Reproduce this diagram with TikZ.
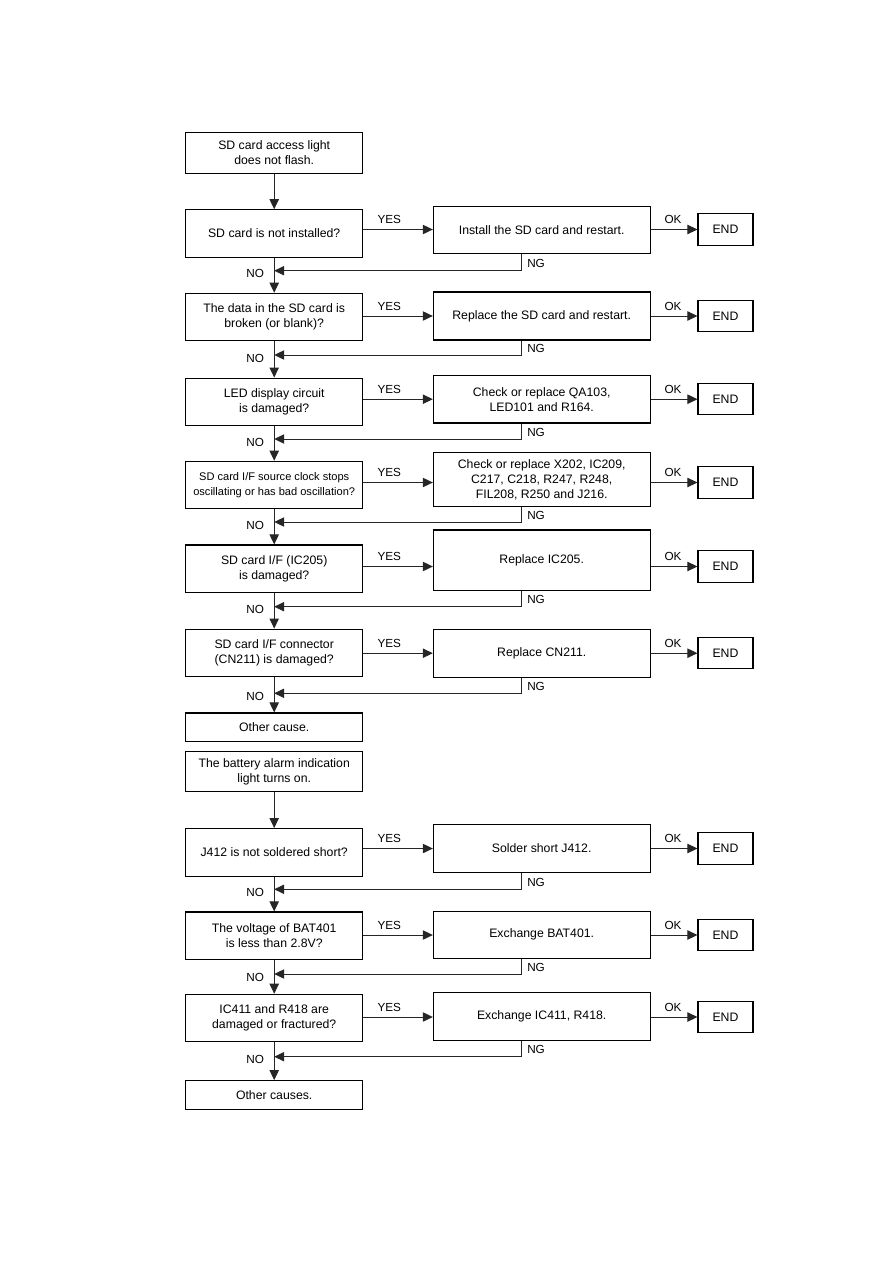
\documentclass[tikz,border=0pt]{standalone}
\usepackage{fontspec}
\setmainfont{Liberation Sans}
\usetikzlibrary{arrows.meta}
\begin{document}
\begin{tikzpicture}[x=0.75pt,y=-0.75pt,
  box/.style={draw=black, line width=0.8pt, fill=white, align=center, inner sep=1pt,
    font=\fontsize{9.2}{11.2}\selectfont, text=black},
  lbox/.style={box, minimum width=132.75pt, minimum height=35.6pt},
  mbox/.style={box, minimum width=162.5pt},
  ebox/.style={box, minimum width=41.25pt, minimum height=23.6pt},
  conn/.style={draw=black!85, line width=0.75pt},
  arr/.style={conn, -{Triangle[length=7.5pt,width=7pt]}},
  lab/.style={font=\fontsize{8.8}{10}\selectfont, inner sep=0pt, text=black}]
\useasboundingbox (0,0) rectangle (893,1263);

% left column
\node[lbox, minimum height=30.45pt] (b0) at (274.2,153) {SD card access light\\does not flash.};
\node[lbox] (q1) at (274.2,233.5) {SD card is not installed?};
\node[lbox] (q2) at (274.2,317) {The data in the SD card is\\broken (or blank)?};
\node[lbox] (q3) at (274.2,401.8) {LED display circuit\\is damaged?};
\node[lbox, font=\fontsize{8.3}{11}\selectfont] (q4) at (274.2,485) {SD card I/F source clock stops\\oscillating or has bad oscillation?};
\node[lbox] (q5) at (274.2,568.7) {SD card I/F (IC205)\\is damaged?};
\node[lbox] (q6) at (274.2,652.8) {SD card I/F connector\\(CN211) is damaged?};
\node[lbox, minimum height=21.5pt] (oc1) at (274.2,727.3) {Other cause.};
\node[lbox, minimum height=30pt] (b1) at (274.2,771.7) {The battery alarm indication\\light turns on.};
\node[lbox] (q7) at (274.2,852.3) {J412 is not soldered short?};
\node[lbox] (q8) at (274.2,935.7) {The voltage of BAT401\\is less than 2.8V?};
\node[lbox] (q9) at (274.2,1018) {IC411 and R418 are\\damaged or fractured?};
\node[lbox, minimum height=21.5pt] (oc2) at (274.2,1095) {Other causes.};

% middle column
\node[mbox, minimum height=35.5pt] (a1) at (541.7,229.7) {Install the SD card and restart.};
\node[mbox, minimum height=36pt] (a2) at (541.7,316) {Replace the SD card and restart.};
\node[mbox, minimum height=35.5pt] (a3) at (541.7,399.3) {Check or replace QA103,\\LED101 and R164.};
\node[mbox, minimum height=40.5pt] (a4) at (541.7,479.7) {Check or replace X202, IC209,\\C217, C218, R247, R248,\\FIL208, R250 and J216.};
\node[mbox, minimum height=45.5pt] (a5) at (541.7,560.3) {Replace IC205.};
\node[mbox, minimum height=36pt] (a6) at (541.7,653.3) {Replace CN211.};
\node[mbox, minimum height=35.8pt] (a7) at (541.7,848.2) {Solder short J412.};
\node[mbox, minimum height=35.5pt] (a8) at (541.7,934.7) {Exchange BAT401.};
\node[mbox, minimum height=36pt] (a9) at (541.7,1016.7) {Exchange IC411, R418.};

% END column
\foreach \i/\y in {1/229.5,2/316,3/399.2,4/482.5,5/566.5,6/653.2,7/848.5,8/935,9/1017}
  \node[ebox] (e\i) at (725.5,\y) {END};

% NG corners
\foreach \i/\y in {1/270.7,2/355,3/439,4/522,5/606.7,6/693.3,7/889.3,8/974,9/1056.7}
  \coordinate (g\i) at (521,\y);

% vertical flow
\draw[arr] (b0.south) -- (q1.north);
\draw[arr] (q1.south) -- (q2.north);
\draw[arr] (q2.south) -- (q3.north);
\draw[arr] (q3.south) -- (q4.north);
\draw[arr] (q4.south) -- (q5.north);
\draw[arr] (q5.south) -- (q6.north);
\draw[arr] (q6.south) -- (oc1.north);
\draw[arr] (b1.south) -- (q7.north);
\draw[arr] (q7.south) -- (q8.north);
\draw[arr] (q8.south) -- (q9.north);
\draw[arr] (q9.south) -- (oc2.north);

% YES / OK / NG / NO
\foreach \i in {1,...,9} {
  \draw[arr] (q\i.east |- e\i.west) -- (a\i.west |- e\i.west);
  \path (q\i.east |- e\i.west) ++(26,-10) node[lab] {YES};
  \draw[arr] (a\i.east |- e\i.west) -- (e\i.west);
  \path (a\i.east |- e\i.west) ++(22.5,-10) node[lab] {OK};
  \draw[arr] (a\i.south -| g\i) -- (g\i) -- (g\i -| q\i.south);
  \path (g\i) ++(6,-7) node[lab, anchor=west] {NG};
  \path (g\i -| q\i.south) ++(-10,3) node[lab, anchor=east] {NO};
}
\end{tikzpicture}
\end{document}
